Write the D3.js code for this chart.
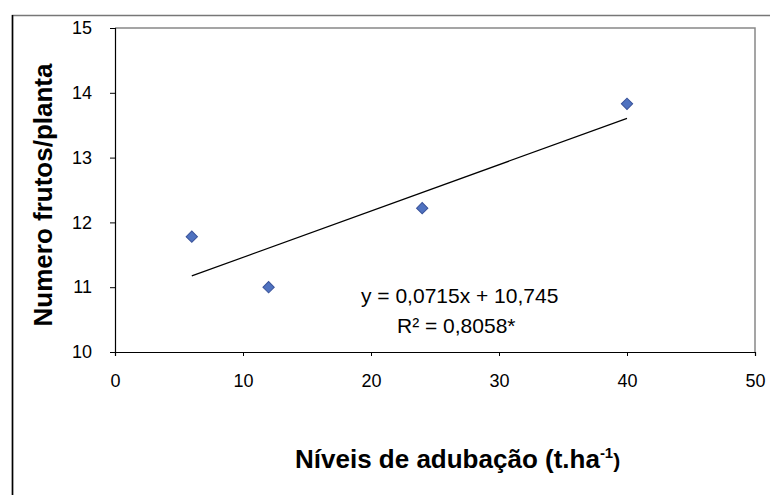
<!DOCTYPE html>
<html>
<head>
<meta charset="utf-8">
<script src="https://cdn.jsdelivr.net/npm/d3@7"></script>
<style>
  body { margin: 0; background: #fff; }
  text { font-family: "Liberation Sans", Arial, sans-serif; }
</style>
</head>
<body>
<script>
// data
const niveis = [6, 12, 24, 40];
const frutos = [11.78, 11.0, 12.22, 13.83];
const xTicks = [0, 10, 20, 30, 40, 50];
const yTicks = [10, 11, 12, 13, 14, 15];
const slope = 0.0715, intercept = 10.745;
const trendX = [6, 40];

const width = 770, height = 495;
const margin = {top: 28, right: 15, bottom: 143, left: 115};

const svg = d3.select("body").append("svg")
    .attr("width", width)
    .attr("height", height);

// outer chart border
svg.append("rect")
    .attr("x", 12.5).attr("y", 15.5)
    .attr("width", 770).attr("height", 500)
    .attr("fill", "none")
    .attr("stroke", "#777")
    .attr("stroke-width", 1.5);
svg.append("line")
    .attr("x1", 12.5).attr("x2", 12.5)
    .attr("y1", 15).attr("y2", 495)
    .attr("stroke", "#000").attr("stroke-width", 1.5);

const xScale = d3.scaleLinear()
    .domain([0, 50])
    .range([margin.left, width - margin.right]);

const yScale = d3.scaleLinear()
    .domain([10, 15])
    .range([height - margin.bottom, margin.top]);

// plot area border (top/right gray)
svg.append("path")
    .attr("d", `M${xScale(0)},${yScale(15)}H${xScale(50)}V${yScale(10)}`)
    .attr("fill", "none")
    .attr("stroke", "#888")
    .attr("stroke-width", 1.5);

const yAxis = d3.axisLeft(yScale).tickValues(yTicks).tickFormat(d3.format("d"))
    .tickSize(5).tickPadding(18);
const gy = svg.append("g")
    .attr("transform", `translate(${xScale(0)},0)`)
    .call(yAxis);

const xAxis = d3.axisBottom(xScale).tickValues(xTicks).tickFormat(d3.format("d"))
    .tickSize(4).tickPadding(18);
const gx = svg.append("g")
    .attr("transform", `translate(0,${yScale(10)})`)
    .call(xAxis);

[gx, gy].forEach(g => {
    g.select(".domain").attr("stroke", "#000").attr("stroke-width", 1.2);
    g.selectAll(".tick line").attr("stroke", "#000");
    g.selectAll(".tick text")
        .attr("font-size", 18)
        .attr("fill", "#000")
        .style("font-family", "Liberation Sans, Arial, sans-serif");
});

// trendline
const lineGen = d3.line()
    .x(d => xScale(d))
    .y(d => yScale(slope * d + intercept));

svg.append("path")
    .attr("d", lineGen(trendX))
    .attr("fill", "none")
    .attr("stroke", "#000")
    .attr("stroke-width", 1.2);

// points
const pts = niveis.map((d, i) => ({x: d, y: frutos[i]}));
svg.selectAll(".pt").data(pts).enter()
    .append("path")
    .attr("class", "pt")
    .attr("d", d3.symbol().type(d3.symbolSquare).size(64))
    .attr("transform", d => `translate(${xScale(d.x)},${yScale(d.y)}) rotate(45)`)
    .attr("fill", "#4f72c0")
    .attr("stroke", "#3a539a")
    .attr("stroke-width", 1);

// equation
svg.append("text")
    .attr("x", 361).attr("y", 303)
    .attr("font-size", 21)
    .text("y = 0,0715x + 10,745");
svg.append("text")
    .attr("x", 397).attr("y", 333)
    .attr("font-size", 21)
    .text("R² = 0,8058*");

// axis titles
const xt = svg.append("text")
    .attr("x", 295).attr("y", 468)
    .attr("font-size", 26)
    .attr("font-weight", "bold");
xt.append("tspan").text("Níveis de adubação (t.ha");
xt.append("tspan").attr("font-size", 15).attr("dy", -10).text("-1");
xt.append("tspan").attr("font-size", 21).attr("dy", 10).text(")");

svg.append("text")
    .attr("transform", "translate(52,195) rotate(-90)")
    .attr("text-anchor", "middle")
    .attr("font-size", 26)
    .attr("font-weight", "bold")
    .text("Numero frutos/planta");
</script>
</body>
</html>
